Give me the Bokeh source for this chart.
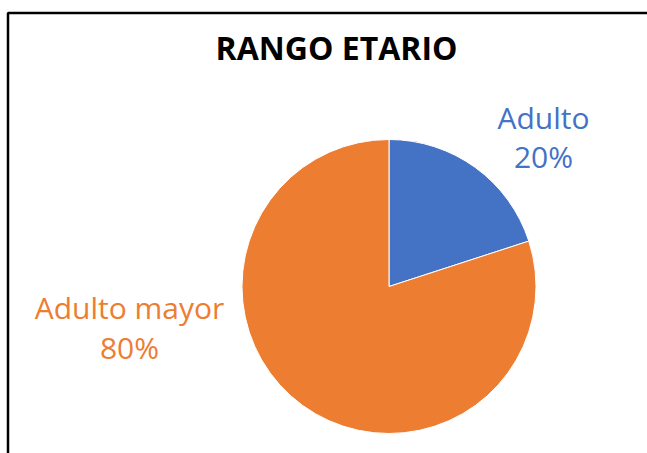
import math
from bokeh.plotting import figure
from bokeh.models import Range1d, BoxAnnotation, ColumnDataSource
from bokeh.core.properties import value
from bokeh.embed import file_html
from bokeh.resources import INLINE

# ---- data ----
title_text = "RANGO ETARIO"
categories = ["Adulto", "Adulto mayor"]
percent_values = [20, 80]
colors = ["#4472C4", "#ED7D31"]

# ---- layout (canvas pixels, 1 data unit == 1 px) ----
W, H = 647, 453
cx, cy, r = 388.5, 167, 147
label_x = [543, 129]
label_name_y = [336, 146]
label_pct_y = [297, 106]

total = sum(percent_values)
starts, ends = [], []
a = math.pi / 2
for v in percent_values:
    starts.append(a)
    a = a - 2 * math.pi * v / total
    ends.append(a)

src = ColumnDataSource(dict(
    cat=categories, val=percent_values, color=colors,
    start=starts, end=ends,
    pct=[f"{v}%" for v in percent_values],
    lx=label_x, ny=label_name_y, py=label_pct_y,
))

p = figure(width=W, height=H, x_range=Range1d(0, W), y_range=Range1d(0, H),
           output_backend="svg", toolbar_location=None, min_border=0,
           background_fill_color="white", border_fill_color="white")
p.axis.visible = False
p.grid.visible = False
p.outline_line_color = None

p.wedge(x=cx, y=cy, radius=r, start_angle="start", end_angle="end",
        direction="clock", fill_color="color", line_color="white",
        line_width=1, source=src)

p.text(x="lx", y="ny", text="cat", text_color="color", source=src,
       text_font=value("Open Sans"), text_font_size="30px",
       text_align="center", text_baseline="alphabetic")
p.text(x="lx", y="py", text="pct", text_color="color", source=src,
       text_font=value("Open Sans"), text_font_size="30px",
       text_align="center", text_baseline="alphabetic")

p.text(x=[336], y=[406], text=[title_text], text_color="black",
       text_font=value("Open Sans"), text_font_style="bold",
       text_font_size="32px", text_align="center", text_baseline="alphabetic")

border = BoxAnnotation(left=7.5, right=W + 50, top=H - 12.5, bottom=-50,
                       fill_alpha=0, line_color="black", line_alpha=1.0,
                       line_width=2.5)
p.add_layout(border)

open("out.html", "w").write(file_html(p, INLINE))
